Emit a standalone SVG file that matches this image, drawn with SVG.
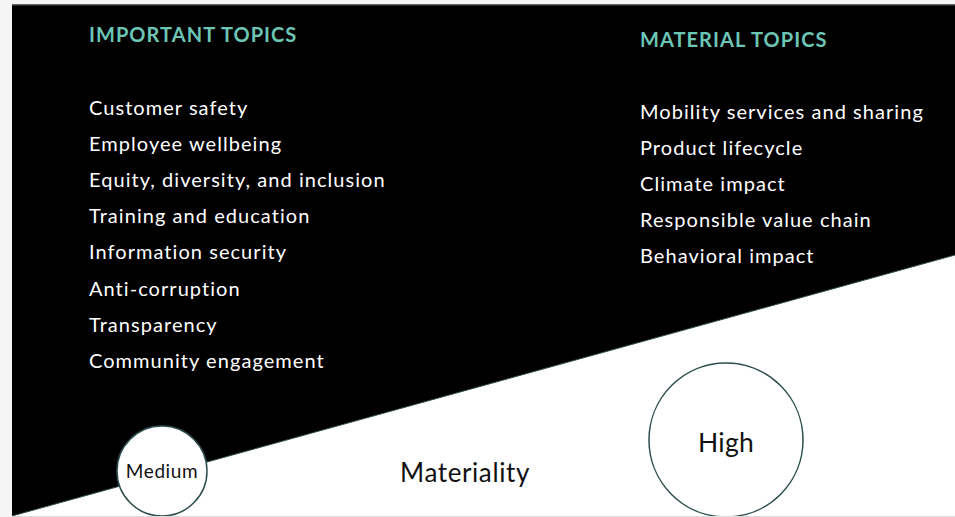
<svg xmlns="http://www.w3.org/2000/svg" width="955" height="517" viewBox="0 0 955 517">
<style>
.h{font-family:"Lato","Noto Sans",sans-serif;font-weight:700;font-size:20px;fill:#6cc5b5;letter-spacing:1.05px}
.t{font-family:"Lato","Noto Sans",sans-serif;font-size:20px;fill:#ffffff;letter-spacing:1.05px}
.c{fill:#ffffff;stroke:#2f4f4f;stroke-width:1.5}
.l{font-family:"Lato","Noto Sans",sans-serif;fill:#111111;text-anchor:middle}
</style>
<rect x="0" y="0" width="955" height="517" fill="#f5f5f5"/>
<rect x="12" y="5" width="943" height="511" fill="#ffffff"/>
<polygon points="12,5 955,5 955,255 12,516" fill="#000000"/>
<line x1="12" y1="5" x2="955" y2="5" stroke="#3a3035" stroke-width="1.5"/>
<line x1="12" y1="516" x2="955" y2="255" stroke="#2f4f4f" stroke-width="1"/>
<g id="important">
<text class="h" x="89" y="42">IMPORTANT TOPICS</text>
<text class="t" x="89" y="115">Customer safety</text>
<text class="t" x="89" y="151">Employee wellbeing</text>
<text class="t" x="89" y="187">Equity, diversity, and inclusion</text>
<text class="t" x="89" y="223">Training and education</text>
<text class="t" x="89" y="259">Information security</text>
<text class="t" x="89" y="296">Anti-corruption</text>
<text class="t" x="89" y="332">Transparency</text>
<text class="t" x="89" y="368">Community engagement</text>
</g>
<g id="material">
<text class="h" x="640" y="47">MATERIAL TOPICS</text>
<text class="t" x="640" y="119">Mobility services and sharing</text>
<text class="t" x="640" y="155">Product lifecycle</text>
<text class="t" x="640" y="191">Climate impact</text>
<text class="t" x="640" y="227">Responsible value chain</text>
<text class="t" x="640" y="263">Behavioral impact</text>
</g>
<g id="medium">
<circle class="c" cx="162" cy="471" r="45"/>
<text class="l" x="162" y="478" font-size="19" letter-spacing="0.6">Medium</text>
</g>
<g id="high">
<circle class="c" cx="726" cy="440" r="77"/>
<text class="l" x="726" y="452" font-size="26.5" letter-spacing="0.3">High</text>
</g>
<g id="axis">
<text class="l" x="465" y="482" font-size="26" letter-spacing="0.6">Materiality</text>
</g>
<g id="connectors"></g>
<line x1="12" y1="516.5" x2="955" y2="516.5" stroke="#dcdcdc" stroke-width="1"/>
</svg>
